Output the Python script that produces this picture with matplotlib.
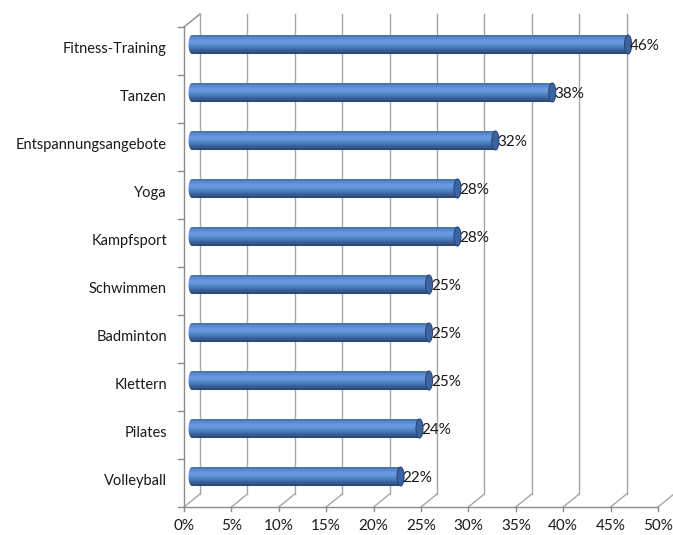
import numpy as np
import matplotlib
matplotlib.use("Agg")
import matplotlib.pyplot as plt
from matplotlib.path import Path
from matplotlib.patches import PathPatch, Ellipse
from matplotlib.colors import LinearSegmentedColormap

# Sport offers, share of respondents (%)
categories = ["Fitness-Training", "Tanzen", "Entspannungsangebote", "Yoga", "Kampfsport",
              "Schwimmen", "Badminton", "Klettern", "Pilates", "Volleyball"]
values = [46, 38, 32, 28, 28, 25, 25, 25, 24, 22]
x_ticks = [0, 5, 10, 15, 20, 25, 30, 35, 40, 45, 50]
x_tick_labels = [f"{t}%" for t in x_ticks]

plt.rcParams["font.family"] = ["Lato", "DejaVu Sans"]

W, H = 673, 535
fig = plt.figure(figsize=(W / 100, H / 100), dpi=100)
ax = fig.add_axes([184 / W, 28 / H, 474 / W, 480 / H])
n = len(categories)
ax.set_xlim(0, 50)
ax.set_ylim(-0.5, n - 0.5)
ax.axis("off")

px_x = 474 / 50.0   # pixels per percent
px_y = 480 / n      # pixels per category
DX = 16 / px_x      # depth offset (x)
DY = 13 / px_y      # depth offset (y)

grid_c = "#a6a6a6"
axis_c = "#8c8c8c"
y_lo, y_hi = -0.5, n - 0.5

# back wall gridlines and floor lines
for t, lab in zip(x_ticks, x_tick_labels):
    ax.plot([t + DX, t + DX], [y_lo + DY, y_hi + DY], color=grid_c, lw=1, clip_on=False, zorder=1)
    ax.plot([t, t + DX], [y_lo, y_lo + DY], color=grid_c, lw=1, clip_on=False, zorder=1)
    ax.plot([t, t], [y_lo, y_lo - 4 / px_y], color=axis_c, lw=1, clip_on=False, zorder=1)
    ax.text(t, y_lo - 19 / px_y, lab, ha="center", va="center", fontsize=11,
            color="#1a1a1a")

# front axes and side wall
ax.plot([0, 50], [y_lo, y_lo], color=axis_c, lw=1, clip_on=False, zorder=1)
ax.plot([0, 0], [y_lo, y_hi], color=axis_c, lw=1, clip_on=False, zorder=1)
ax.plot([0, DX], [y_hi, y_hi + DY], color=axis_c, lw=1, clip_on=False, zorder=1)
for k in range(n + 1):
    yk = y_lo + k
    ax.plot([0, -6 / px_x], [yk, yk], color=axis_c, lw=1, clip_on=False, zorder=1)

# cylinder gradient (top to bottom)
cmap = LinearSegmentedColormap.from_list(
    "cyl", ["#4470ae", "#5b8cd2", "#6a9de2", "#5e8fd4", "#4a78b8", "#375d94", "#284573"])
grad = np.linspace(0, 1, 64).reshape(-1, 1)

half_h = 9.5 / px_y
rx = 3.5 / px_x
theta = np.linspace(np.pi / 2, 3 * np.pi / 2, 30)

for idx, (cat, v) in enumerate(zip(categories, values)):
    i = n - 1 - idx
    yc = i + DY / 2
    x0 = DX / 2
    x1 = v + DX / 2
    # body outline: flat right side, rounded left end
    left = np.column_stack([x0 + rx * np.cos(theta), yc + half_h * np.sin(theta)])
    verts = [(x1, yc + half_h)] + [tuple(p) for p in left] + [(x1, yc - half_h), (x1, yc + half_h)]
    codes = [Path.MOVETO] + [Path.LINETO] * (len(verts) - 2) + [Path.CLOSEPOLY]
    body = PathPatch(Path(verts, codes), facecolor="none", edgecolor="none")
    ax.add_patch(body)
    im = ax.imshow(grad, cmap=cmap, aspect="auto", origin="upper",
                   extent=[x0 - rx, x1, yc - half_h, yc + half_h], zorder=3)
    im.set_clip_path(body)
    cap = Ellipse((x1, yc), 2 * rx, 2 * half_h, facecolor="#3b64a0",
                  edgecolor="#2a4776", lw=0.8, zorder=4)
    ax.add_patch(cap)
    ax.text(x1 + rx * 0.6, yc - 0.03, f"{v}%", ha="left", va="center",
            fontsize=11, color="#1a1a1a", zorder=5)
    ax.text(-17 / px_x, i + 0.05, cat, ha="right", va="center", fontsize=10.5,
            color="#1a1a1a")

ax.set_xlim(0, 50)
ax.set_ylim(-0.5, n - 0.5)
fig.savefig("out.png", dpi=100)
